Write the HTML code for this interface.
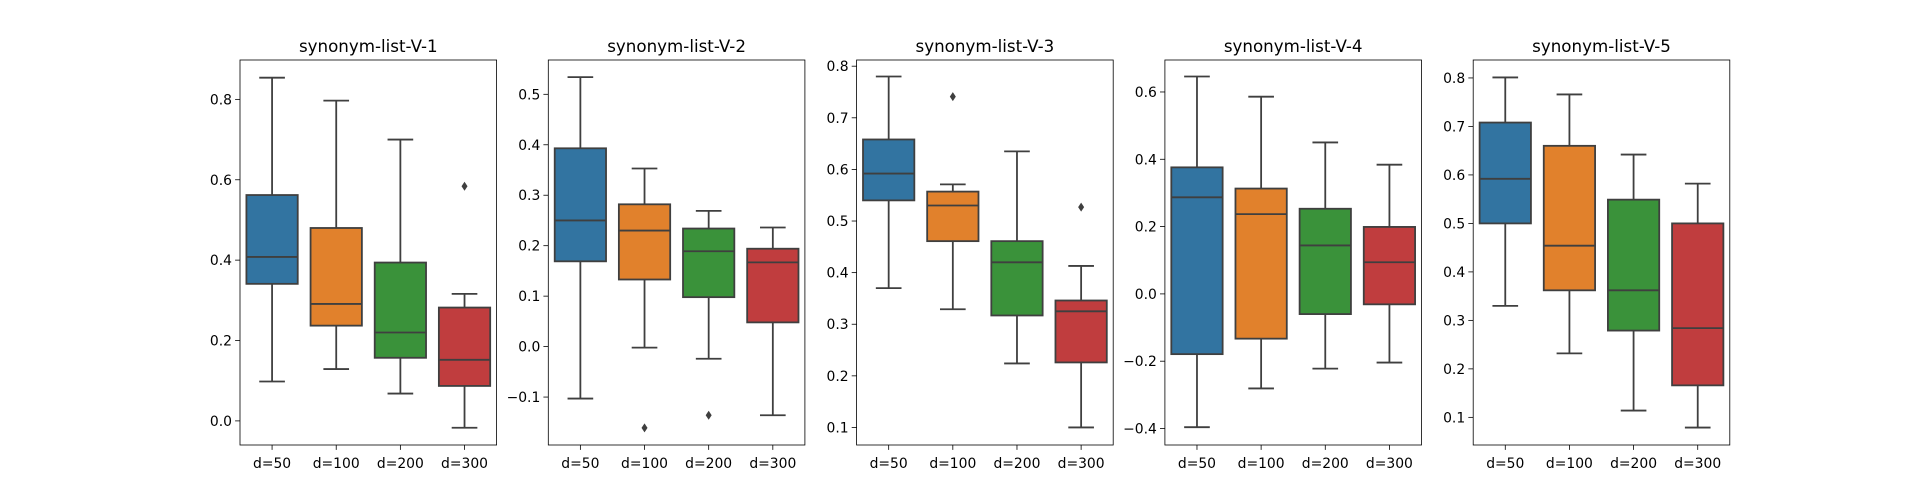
<!DOCTYPE html>
<html><head><meta charset="utf-8"><style>
html,body{margin:0;padding:0;background:#fff;}
svg{display:block;font-family:"DejaVu Sans","Liberation Sans",sans-serif;}
</style></head><body>
<svg id="chart" width="1920" height="500" xmlns="http://www.w3.org/2000/svg"></svg>
<script>
const categories = ["d=50","d=100","d=200","d=300"];
const colors = ["#3274a1","#e1812c","#3a923a","#c03d3e"];
const titles = ["synonym-list-V-1","synonym-list-V-2","synonym-list-V-3","synonym-list-V-4","synonym-list-V-5"];
const ylims = [[-0.06,0.898],[-0.195,0.568],[0.066,0.812],[-0.449,0.695],[0.043,0.837]];
const yticks = [
  [0.0,0.2,0.4,0.6,0.8],
  [-0.1,0.0,0.1,0.2,0.3,0.4,0.5],
  [0.1,0.2,0.3,0.4,0.5,0.6,0.7,0.8],
  [-0.4,-0.2,0.0,0.2,0.4,0.6],
  [0.1,0.2,0.3,0.4,0.5,0.6,0.7,0.8]
];
const tickDecimals = [1,1,1,1,1];
// [lowWhisker, q1, median, q3, highWhisker] per category
const stats1 = [[0.098,0.341,0.408,0.562,0.854],[0.129,0.237,0.291,0.480,0.797],[0.068,0.157,0.220,0.394,0.700],[-0.017,0.087,0.152,0.282,0.316]];
const stats2 = [[-0.103,0.169,0.250,0.393,0.534],[-0.002,0.133,0.230,0.282,0.353],[-0.024,0.098,0.189,0.234,0.269],[-0.136,0.048,0.167,0.194,0.236]];
const stats3 = [[0.370,0.540,0.592,0.658,0.780],[0.329,0.461,0.530,0.557,0.571],[0.224,0.317,0.420,0.461,0.635],[0.100,0.226,0.325,0.346,0.413]];
const stats4 = [[-0.396,-0.179,0.287,0.376,0.646],[-0.281,-0.133,0.237,0.313,0.586],[-0.222,-0.060,0.144,0.253,0.450],[-0.204,-0.031,0.094,0.199,0.384]];
const stats5 = [[0.330,0.500,0.592,0.708,0.801],[0.232,0.362,0.454,0.660,0.766],[0.114,0.279,0.362,0.549,0.642],[0.079,0.166,0.284,0.500,0.582]];
const allStats = [stats1,stats2,stats3,stats4,stats5];
// outliers: [panelIndex, categoryIndex, value]
const outliers = [[0,3,0.584],[1,1,-0.161],[1,2,-0.136],[2,1,0.741],[2,3,0.527]];

const NS="http://www.w3.org/2000/svg";
const svg=document.getElementById('chart');
function mk(tag,attrs,parent){const e=document.createElementNS(NS,tag);for(const k in attrs)e.setAttribute(k,attrs[k]);(parent||svg).appendChild(e);return e;}
const axTop=60, axBot=445, axW=256.6, axStep=308.3, axLeft0=240;
const LC="#3f3f3f", LW=1.8;

for(let p=0;p<5;p++){
  const left=axLeft0+p*axStep, right=left+axW;
  const [y0,y1]=ylims[p];
  const ys=v=>axBot-(v-y0)/(y1-y0)*(axBot-axTop);
  const slot=axW/categories.length;
  const xs=i=>left+slot*(i+0.5);
  const g=mk('g',{});
  
  
  const t=mk('text',{x:left+axW/2,y:axTop-8,'text-anchor':'middle','font-size':'16.7',fill:'#000'},g);
  t.textContent=titles[p];
  
  
  // y ticks
  yticks[p].forEach(v=>{
    const y=ys(v);
    mk('line',{x1:left-4.9,x2:left,y1:y,y2:y,stroke:'#000','stroke-width':0.8},g);
    const tl=mk('text',{x:left-8,y:y+5,'text-anchor':'end','font-size':'13.9',fill:'#000'},g);
    tl.textContent=(v<0?'\u2212':'')+Math.abs(v).toFixed(tickDecimals[p]);
    
    
  });
  // boxes
  const stats=allStats[p];
  stats.forEach((s,i)=>{
    const cx=xs(i), bw=slot*0.8, cw=bw/2;
    const bg=mk('g',{},g);
    
    
    mk('line',{x1:cx,x2:cx,y1:ys(s[0]),y2:ys(s[1]),stroke:LC,'stroke-width':LW},bg);
    mk('line',{x1:cx,x2:cx,y1:ys(s[3]),y2:ys(s[4]),stroke:LC,'stroke-width':LW},bg);
    mk('line',{x1:cx-cw/2,x2:cx+cw/2,y1:ys(s[0]),y2:ys(s[0]),stroke:LC,'stroke-width':LW},bg);
    mk('line',{x1:cx-cw/2,x2:cx+cw/2,y1:ys(s[4]),y2:ys(s[4]),stroke:LC,'stroke-width':LW},bg);
    mk('rect',{x:cx-bw/2,y:ys(s[3]),width:bw,height:ys(s[1])-ys(s[3]),fill:colors[i],stroke:LC,'stroke-width':LW},bg);
    mk('line',{x1:cx-bw/2,x2:cx+bw/2,y1:ys(s[2]),y2:ys(s[2]),stroke:LC,'stroke-width':LW},bg);
  });
  outliers.filter(o=>o[0]===p).forEach(o=>{
    const cx=xs(o[1]), cy=ys(o[2]);
    const d=mk('polygon',{points:`${cx},${cy-4.5} ${cx+3},${cy} ${cx},${cy+4.5} ${cx-3},${cy}`,fill:LC},g);
    
    
  });
  // x ticks
  categories.forEach((c,i)=>{
    const x=xs(i);
    mk('line',{x1:x,x2:x,y1:axBot,y2:axBot+4.9,stroke:'#000','stroke-width':0.8},g);
    const xl=mk('text',{x:x,y:axBot+23,'text-anchor':'middle','font-size':'13.9',fill:'#000'},g);
    xl.textContent=c;
    
    
  });
  const fr=mk('rect',{x:left,y:axTop,width:axW,height:axBot-axTop,fill:'none',stroke:'#000','stroke-width':0.8},g);
  
  
}
</script>
</body></html>
